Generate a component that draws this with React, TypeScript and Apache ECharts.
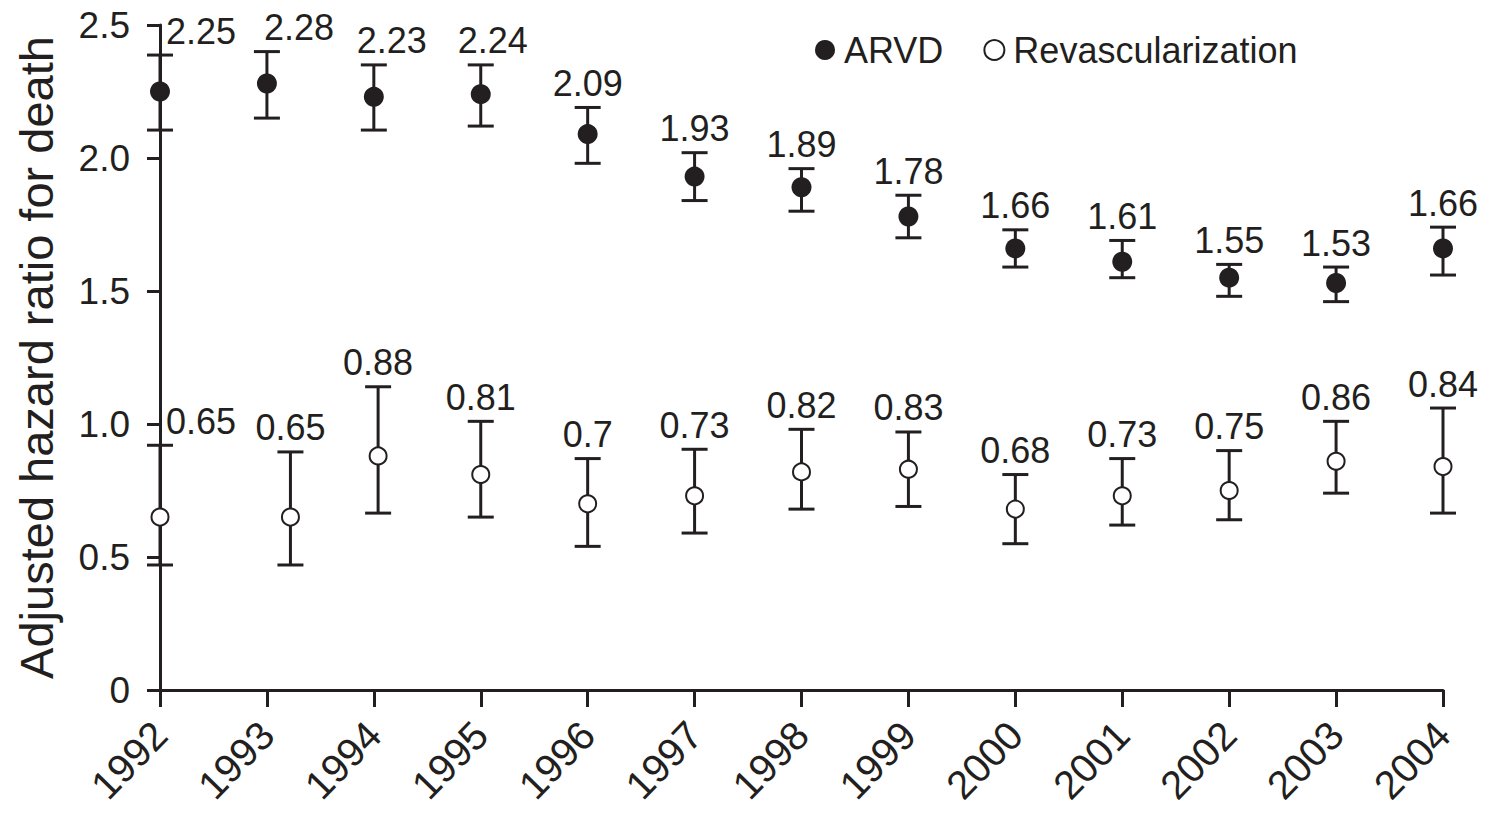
import React, { useEffect, useRef } from "react";
import * as echarts from "echarts";

const years = [1992, 1993, 1994, 1995, 1996, 1997, 1998, 1999, 2000, 2001, 2002, 2003, 2004];
const yTicks = [0, 0.5, 1.0, 1.5, 2.0, 2.5];

// x position of each point (the reference draws the 1993 revascularization point a little right of its tick)
const arvdX = [1992, 1993, 1994, 1995, 1996, 1997, 1998, 1999, 2000, 2001, 2002, 2003, 2004];
const revascX = [1992, 1993.22, 1994.04, 1995, 1996, 1997, 1998, 1999, 2000, 2001, 2002, 2003, 2004];

const arvd = [2.25, 2.28, 2.23, 2.24, 2.09, 1.93, 1.89, 1.78, 1.66, 1.61, 1.55, 1.53, 1.66];
const arvdLow = [2.105, 2.15, 2.105, 2.12, 1.98, 1.84, 1.8, 1.7, 1.59, 1.55, 1.48, 1.46, 1.56];
const arvdHigh = [2.387, 2.4, 2.35, 2.35, 2.19, 2.02, 1.96, 1.86, 1.73, 1.69, 1.6, 1.59, 1.74];

const revasc = [0.65, 0.65, 0.88, 0.81, 0.7, 0.73, 0.82, 0.83, 0.68, 0.73, 0.75, 0.86, 0.84];
const revascLow = [0.47, 0.47, 0.665, 0.65, 0.54, 0.59, 0.68, 0.69, 0.55, 0.62, 0.64, 0.74, 0.665];
const revascHigh = [0.92, 0.895, 1.14, 1.01, 0.87, 0.905, 0.98, 0.97, 0.81, 0.87, 0.9, 1.01, 1.06];

const INK = "#231f20";
const FONT = "Liberation Sans, Arial, sans-serif";

// label nudges (pixels) seen in the reference for the crowded early ARVD labels
const ARVD_LABEL_SHIFT: Record<number, number> = { 1: 32, 2: 18, 3: 12 };

function makeRender(shift: Record<number, number>) {
  return function errorRender(params: any, api: any) {
    const x = api.value(0);
    const lo = api.value(1);
    const hi = api.value(2);
    const label = String(api.value(3));
    const pHi = api.coord([x, hi]);
    const pLo = api.coord([x, lo]);
    const hw = 13;
    const i = params.dataIndex;
    const first = i === 0;
    const dx = shift[i] || 0;
    return {
      type: "group",
      children: [
        { type: "line", shape: { x1: pHi[0], y1: pHi[1], x2: pLo[0], y2: pLo[1] }, style: { stroke: INK, lineWidth: 3 } },
        { type: "line", shape: { x1: pHi[0] - hw, y1: pHi[1], x2: pHi[0] + hw, y2: pHi[1] }, style: { stroke: INK, lineWidth: 3 } },
        { type: "line", shape: { x1: pLo[0] - hw, y1: pLo[1], x2: pLo[0] + hw, y2: pLo[1] }, style: { stroke: INK, lineWidth: 3 } },
        {
          type: "text",
          x: first ? pHi[0] + 6 : pHi[0] + dx,
          y: pHi[1] - 6,
          style: {
            text: label,
            fill: INK,
            fontSize: 36,
            fontFamily: FONT,
            align: first ? "left" : "center",
            verticalAlign: "bottom",
          },
        },
      ],
    };
  };
}

export default function App() {
  const ref = useRef<HTMLDivElement>(null);
  useEffect(() => {
    if (!ref.current) return;
    const chart = echarts.init(ref.current, undefined, { renderer: "svg" });
    const errA = years.map((_, i) => [arvdX[i], arvdLow[i], arvdHigh[i], arvd[i]]);
    const errR = years.map((_, i) => [revascX[i], revascLow[i], revascHigh[i], revasc[i]]);
    chart.setOption({
      animation: false,
      backgroundColor: "#fff",
      grid: { left: 160, right: 44, top: 25, bottom: 124, containLabel: false, outerBoundsMode: "none" },
      legend: {
        left: 810,
        top: 27,
        itemGap: 40,
        itemWidth: 20,
        itemHeight: 20,
        textStyle: { fontSize: 36, fontFamily: FONT, color: INK, padding: [0, 0, 0, 4] },
        data: [
          { name: "ARVD", icon: "circle" },
          { name: "Revascularization", icon: "emptyCircle" },
        ],
      },
      xAxis: {
        type: "value",
        min: 1992,
        max: 2004,
        interval: 1,
        axisLine: { onZero: false, lineStyle: { color: INK, width: 3 } },
        axisTick: { length: 17, lineStyle: { color: INK, width: 3 } },
        axisLabel: {
          rotate: 46,
          fontSize: 40,
          fontFamily: FONT,
          color: INK,
          margin: 38,
          formatter: (v: number) => String(Math.round(v)),
        },
        splitLine: { show: false },
      },
      yAxis: {
        type: "value",
        min: 0,
        max: 2.5,
        interval: 0.5,
        name: "Adjusted hazard ratio for death",
        nameLocation: "middle",
        nameGap: 100,
        nameTextStyle: { fontSize: 47, fontFamily: FONT, color: INK },
        axisLine: { show: true, lineStyle: { color: INK, width: 3 } },
        axisTick: { show: true, length: 13, lineStyle: { color: INK, width: 3 } },
        axisLabel: {
          fontSize: 37,
          fontFamily: FONT,
          color: INK,
          margin: 30,
          formatter: (v: number) => {
            const t = yTicks.find((x) => Math.abs(x - v) < 1e-9);
            if (t === undefined) return "";
            return t === 0 ? "0" : t.toFixed(1);
          },
        },
        splitLine: { show: false },
      },
      series: [
        { name: "ARVD err", type: "custom", renderItem: makeRender(ARVD_LABEL_SHIFT), data: errA, z: 2, silent: true },
        { name: "Revasc err", type: "custom", renderItem: makeRender({}), data: errR, z: 2, silent: true },
        {
          name: "ARVD",
          type: "scatter",
          data: arvd.map((v, i) => [arvdX[i], v]),
          symbol: "circle",
          symbolSize: 20,
          itemStyle: { color: INK, opacity: 1 },
          z: 5,
        },
        {
          name: "Revascularization",
          type: "scatter",
          data: revasc.map((v, i) => [revascX[i], v]),
          symbol: "emptyCircle",
          symbolSize: 17,
          itemStyle: { color: INK, borderWidth: 2, opacity: 1 },
          z: 5,
        },
      ],
    });
    return () => chart.dispose();
  }, []);
  return (
    <div
      ref={ref}
      style={{ position: "fixed", left: 0, top: 0, width: 1487, height: 814, background: "#fff" }}
    />
  );
}
